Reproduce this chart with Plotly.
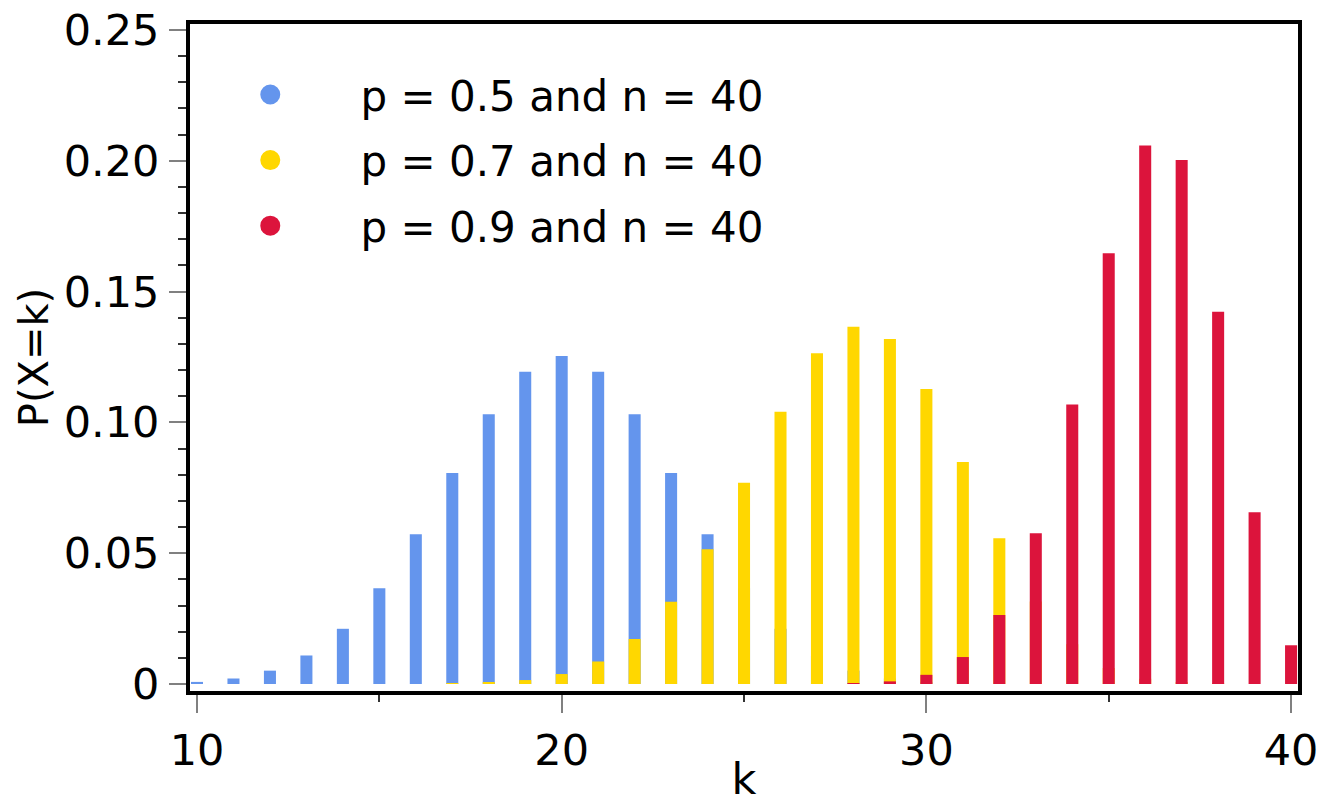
import plotly.graph_objects as go

# k values per series
k_blue = list(range(10, 31))
p_blue = [0.0008, 0.0021, 0.0051, 0.0109, 0.0211, 0.0366, 0.0572, 0.0807, 0.1031, 0.1194,
          0.1254, 0.1194, 0.1031, 0.0807, 0.0572, 0.0366, 0.0211, 0.0109, 0.0051, 0.0021, 0.0008]

k_yellow = list(range(17, 41))
p_yellow = [0.0002, 0.0005, 0.0015, 0.0038, 0.0086, 0.0172, 0.0314, 0.0515, 0.0769, 0.1041,
            0.1264, 0.1366, 0.1319, 0.1128, 0.0849, 0.0557, 0.0315, 0.0152, 0.0061, 0.0020,
            0.0005, 0.0001, 0.0000, 0.0000]

k_red = list(range(28, 41))
p_red = [0.0002, 0.0010, 0.0035, 0.0103, 0.0264, 0.0576, 0.1068, 0.1647, 0.2059, 0.2003,
         0.1423, 0.0657, 0.0148]

series_names = ["p = 0.5 and n = 40", "p = 0.7 and n = 40", "p = 0.9 and n = 40"]
colors = ["#6495ED", "#FFD700", "#DC143C"]

y_ticks = [0, 0.05, 0.10, 0.15, 0.20, 0.25]
y_ticklabels = ["0", "0.05", "0.10", "0.15", "0.20", "0.25"]
x_ticks = [10, 20, 30, 40]

FONT = "DejaVu Sans"
FS = 43

fig = go.Figure()
for ks, ps, col in zip([k_blue, k_yellow, k_red], [p_blue, p_yellow, p_red], colors):
    fig.add_trace(go.Bar(x=ks, y=ps, width=0.33, marker=dict(color=col, line=dict(width=0)),
                         showlegend=False))

pad = "\u00a0" * 4 + "\u2009" * 2
for i, (name, col) in enumerate(zip(series_names, colors)):
    fig.add_trace(go.Scatter(x=[None], y=[None], mode="markers", name=pad + name,
                             legendgroup="g%d" % i,
                             marker=dict(color=col, size=16, symbol="circle",
                                         line=dict(color=col, width=4))))

fig.update_layout(
    width=1320, height=804,
    margin=dict(l=190, r=22, t=24, b=113),
    barmode="overlay",
    plot_bgcolor="white", paper_bgcolor="white",
    font=dict(family=FONT, color="black", size=FS),
    legend=dict(x=0.0544, y=0.945, xanchor="left", yanchor="top",
                bgcolor="rgba(0,0,0,0)", font=dict(size=42, family=FONT),
                itemwidth=30, tracegroupgap=8, traceorder="grouped"),
    xaxis=dict(range=[9.808, 40.19], tickvals=x_ticks, ticktext=[str(v) for v in x_ticks],
               ticks="outside", ticklen=18, tickwidth=2, tickcolor="#808080",
               minor=dict(dtick=5, tick0=10, ticks="outside", ticklen=7, tickwidth=2, tickcolor="#333"),
               showline=True, linecolor="black", linewidth=4, mirror=True,
               showgrid=False, zeroline=False, automargin=False,
               title=dict(text="k", standoff=4, font=dict(size=FS, family=FONT)),
               tickfont=dict(size=FS, family=FONT)),
    yaxis=dict(range=[-0.00268, 0.2523], tickvals=y_ticks, ticktext=y_ticklabels,
               ticks="outside", ticklen=17, tickwidth=2, tickcolor="#808080",
               minor=dict(dtick=0.01, tick0=0, ticks="outside", ticklen=8, tickwidth=2, tickcolor="#333"),
               showline=True, linecolor="black", linewidth=4, mirror=True,
               showgrid=False, zeroline=False, automargin=False,
               ticklabelstandoff=1,
               title=dict(text="P(X=k)", standoff=4, font=dict(size=40, family=FONT)),
               tickfont=dict(size=FS, family=FONT)),
)

fig.write_html("out.html", config={"displayModeBar": False},
               post_script="document.body.style.margin='0';document.body.style.overflow='hidden';")
